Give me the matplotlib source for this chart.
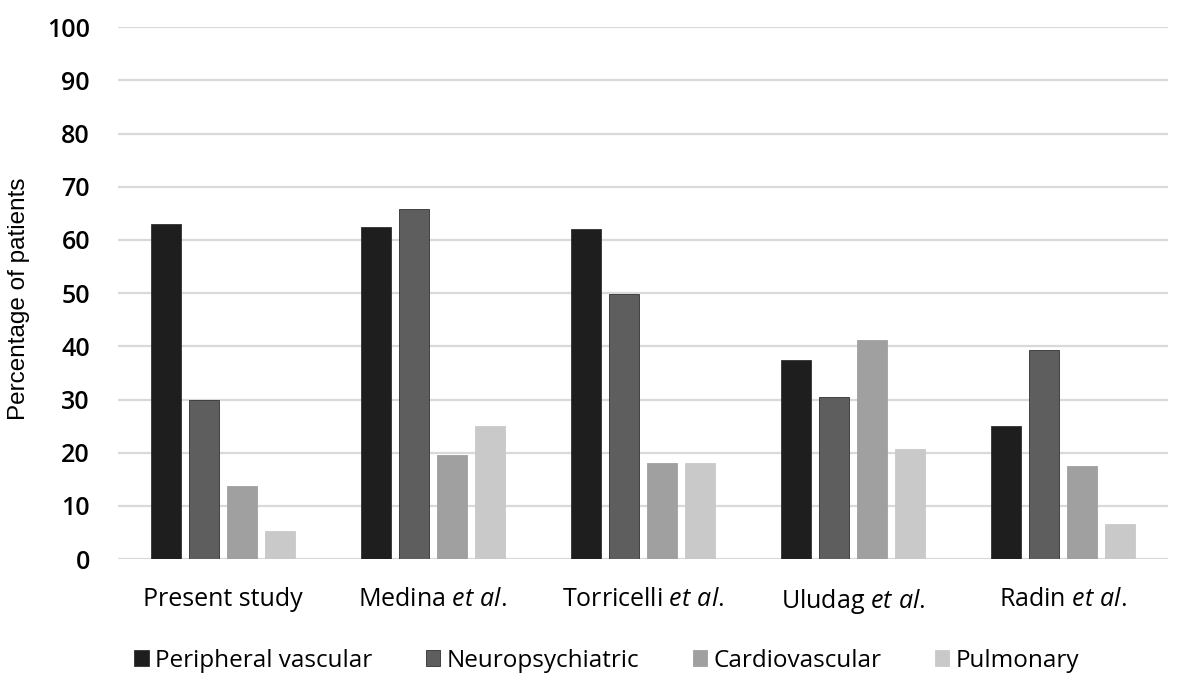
import numpy as np
import matplotlib.pyplot as plt

plt.rcParams['font.family'] = ['Open Sans', 'DejaVu Sans']
plt.rcParams['mathtext.fontset'] = 'custom'
plt.rcParams['mathtext.rm'] = 'Open Sans'
plt.rcParams['mathtext.it'] = 'Open Sans:italic'

studies = ['Present study', r'Medina $\it{et\ al.}$', r'Torricelli $\it{et\ al.}$',
           r'Uludag $\it{et\ al.}$', r'Radin $\it{et\ al.}$']
series = ['Peripheral vascular', 'Neuropsychiatric', 'Cardiovascular', 'Pulmonary']
peripheral = [63.0, 62.5, 62.1, 37.5, 25.1]
neuro = [29.9, 65.8, 49.8, 30.4, 39.4]
cardio = [13.8, 19.6, 18.0, 41.2, 17.6]
pulmonary = [5.3, 25.1, 18.0, 20.8, 6.7]
yticks = list(range(0, 101, 10))

colors = ['#1e1e1e', '#5e5e5e', '#a0a0a0', '#c9c9c9']
values = [peripheral, neuro, cardio, pulmonary]

fig = plt.figure(figsize=(11.78, 6.77), dpi=100)
ax = fig.add_axes([0.1, 0.174, 0.8915, 0.786])

x = np.arange(len(studies))
width = 0.143
step = 0.18
for i, (name, vals, c) in enumerate(zip(series, values, colors)):
    ax.bar(x + (i - 1.5) * step, vals, width, color=c, label=name,
           edgecolor='#303030' if i < 2 else c, linewidth=0.6, zorder=3)

ax.set_xlim(-0.5, len(studies) - 0.5)
ax.set_ylim(0, 100)
ax.set_yticks(yticks)
ax.set_xticks(x)
ax.set_xticklabels(studies, fontsize=18)
ax.tick_params(axis='x', length=0, pad=20)
ax.tick_params(axis='y', length=0, pad=20)
for lab in ax.get_yticklabels():
    lab.set_fontsize(18)
    lab.set_fontweight('semibold')
ax.yaxis.grid(True, color='#d9d9d9', linewidth=1.6, zorder=0)
for s in ax.spines.values():
    s.set_visible(False)

fig.text(0.016, 0.558, 'Percentage of patients', rotation=90, va='center', ha='center',
         fontsize=17.5, family='Liberation Sans')

fig.legend(loc='center', bbox_to_anchor=(0.515, 0.024), ncol=4, frameon=False,
           fontsize=17.5, handlelength=0.6, handleheight=0.6, handletextpad=0.25,
           columnspacing=2.2)

fig.savefig('out.png', dpi=100)
